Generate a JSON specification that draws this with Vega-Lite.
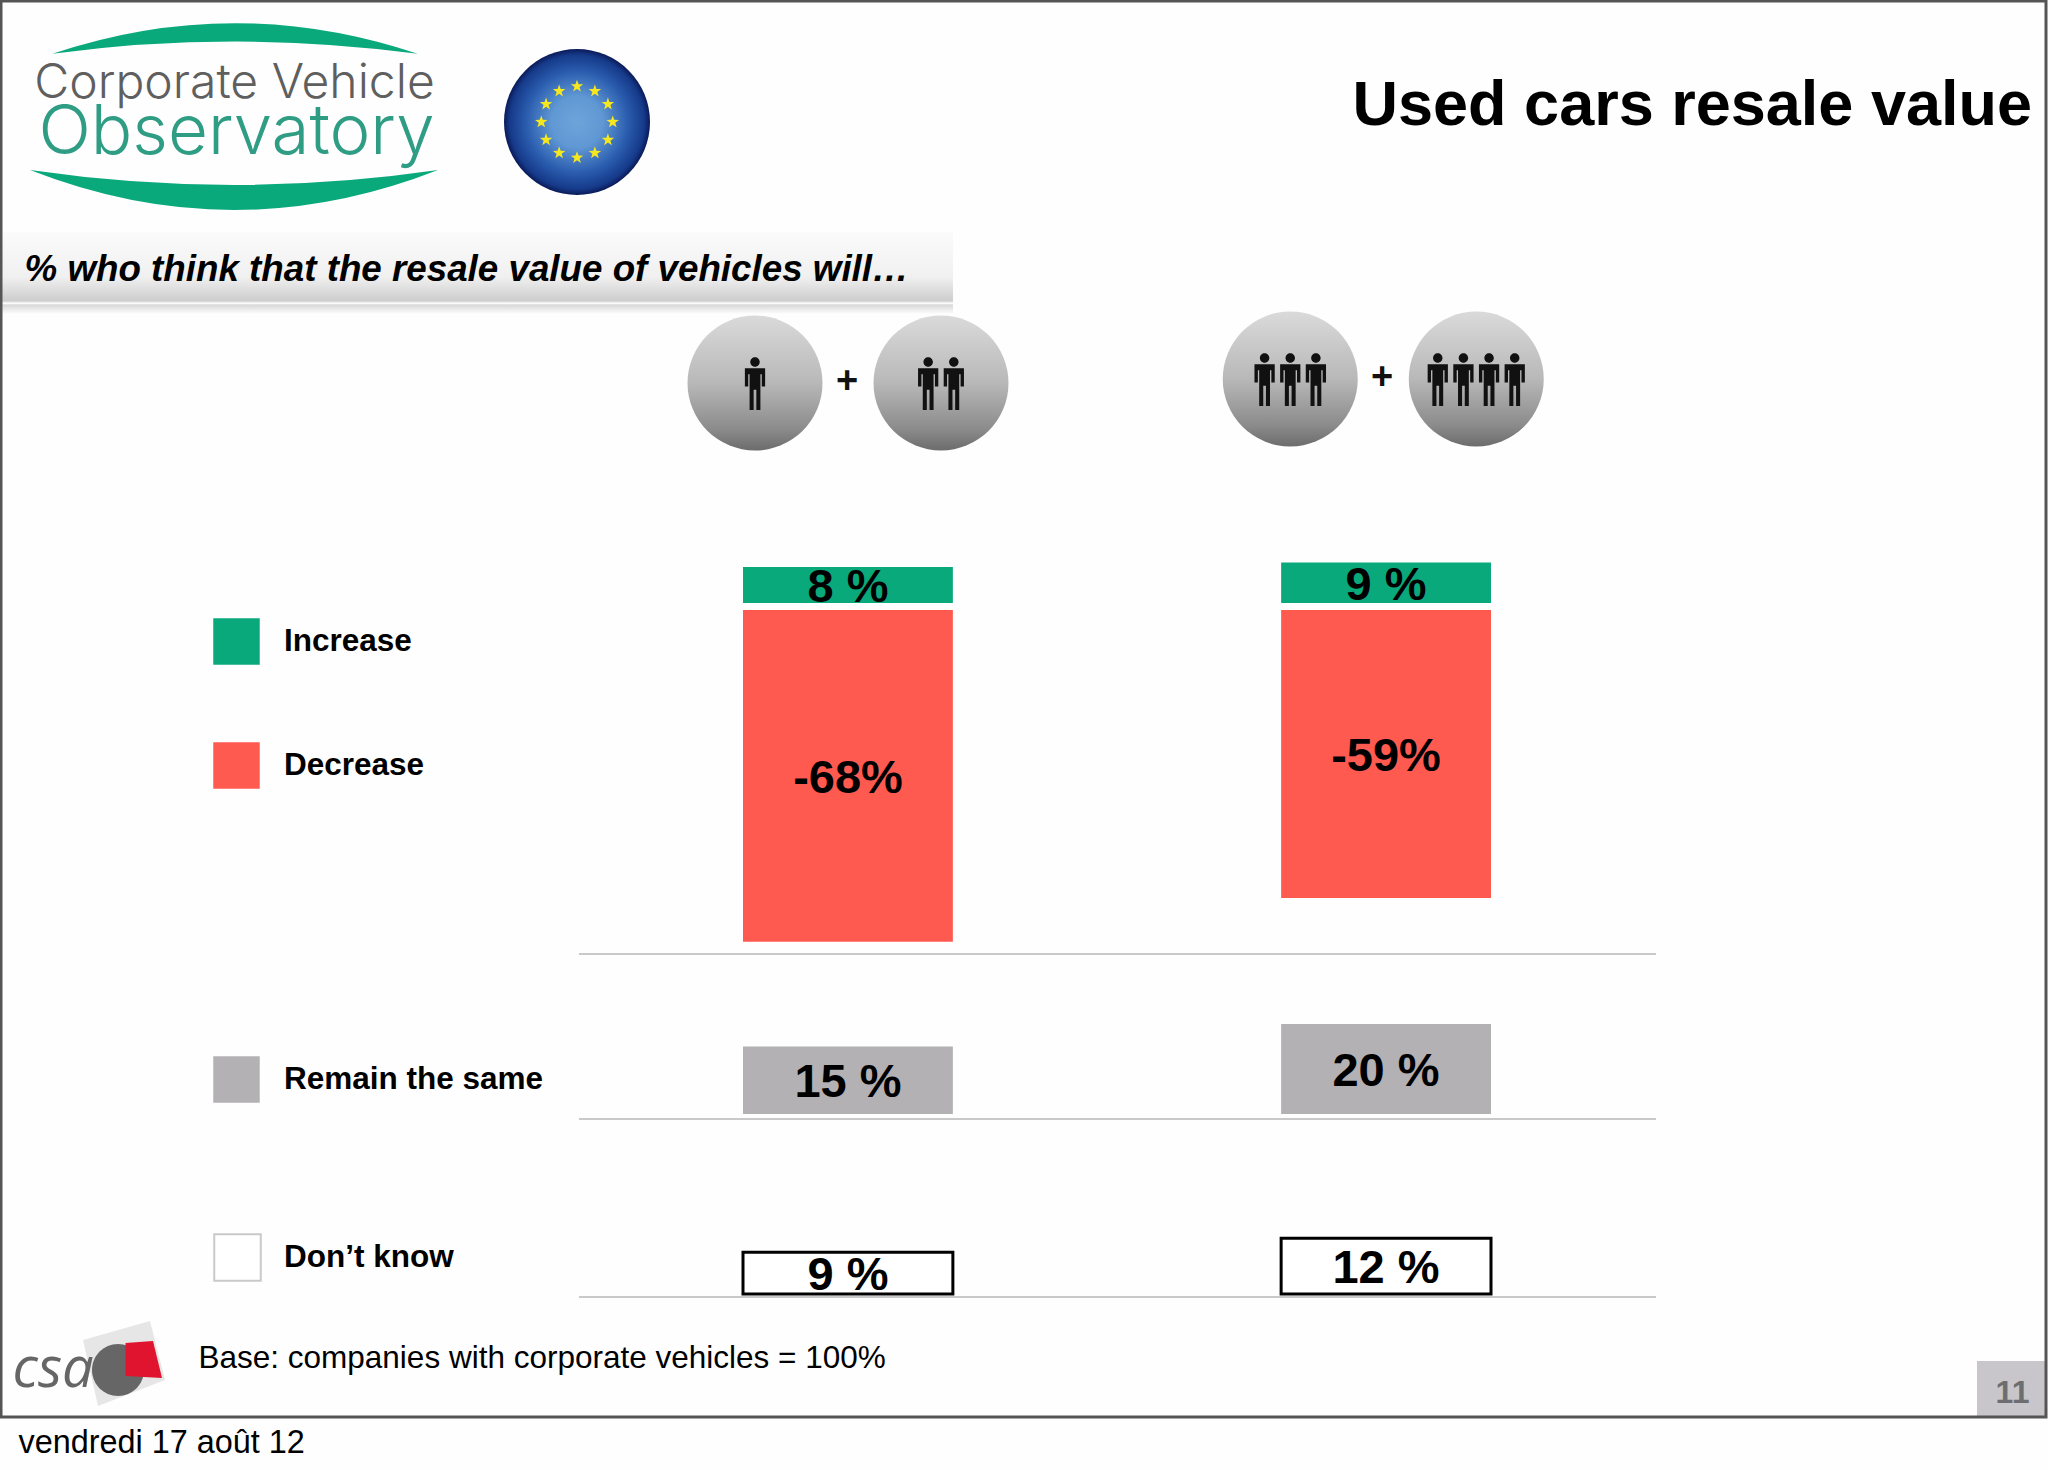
{
  "$schema": "https://vega.github.io/schema/vega-lite/v6.json",
  "width": 2048,
  "height": 1470,
  "padding": 0,
  "autosize": {"type": "none"},
  "background": "#fefefe",
  "title": {
    "text": "Used cars resale value",
    "anchor": "end",
    "frame": "group",
    "offset": 0,
    "dy": 188,
    "dx": -16,
    "baseline": "alphabetic",
    "font": "Liberation Sans",
    "fontSize": 63,
    "fontWeight": "bold",
    "color": "#000000"
  },
  "config": {
    "view": {"stroke": null},
    "axis": {"domain": false, "ticks": false, "labels": false, "grid": false, "titlePadding": 0, "titleColor": "#000000", "titleFont": "Liberation Sans", "titleFontWeight": "normal", "titleLimit": 1500},
    "legend": {"title": null, "padding": 0, "symbolType": "square", "symbolSize": 2162, "symbolStrokeWidth": 0, "labelFont": "Liberation Sans", "labelFontSize": 31.5, "labelFontWeight": "bold", "labelColor": "#000000", "labelOffset": 24, "labelLimit": 500}
  },
  "data": {
    "values": [
      {"group": "1+2", "answer": "Increase", "value": 8, "label": "8 %"},
      {"group": "3+4", "answer": "Increase", "value": 9, "label": "9 %"},
      {"group": "1+2", "answer": "Decrease", "value": -68, "label": "-68%"},
      {"group": "3+4", "answer": "Decrease", "value": -59, "label": "-59%"},
      {"group": "1+2", "answer": "Remain the same", "value": 15, "label": "15 %"},
      {"group": "3+4", "answer": "Remain the same", "value": 20, "label": "20 %"},
      {"group": "1+2", "answer": "Don’t know", "value": 9, "label": "9 %"},
      {"group": "3+4", "answer": "Don’t know", "value": 12, "label": "12 %"}
    ]
  },
  "resolve": {
    "scale": {"x": "independent", "y": "independent", "color": "independent", "shape": "independent", "xOffset": "independent"},
    "axis": {"x": "independent", "y": "independent"},
    "legend": {"color": "independent"}
  },
  "layer": [
    {
      "data": {"values": [{"item": "band"}]},
      "mark": {"type": "rect", "fill": {"gradient": "linear", "x1": 0, "y1": 0, "x2": 0, "y2": 1, "stops": [{"offset": 0, "color": "#fbfbfb"}, {"offset": 0.55, "color": "#f0f0f0"}, {"offset": 0.84, "color": "#cdcdcd"}, {"offset": 0.87, "color": "#ffffff"}, {"offset": 0.89, "color": "#d8d8d8"}, {"offset": 1, "color": "#fefefe"}]}},
      "encoding": {
        "x": {"datum": 0, "type": "quantitative", "scale": {"domain": [0, 1], "range": [0, 953]}, "axis": {"orient": "top", "zindex": 1, "title": "% who think that the resale value of vehicles will…", "titleX": 24, "titleY": 269, "titleAlign": "left", "titleBaseline": "middle", "titleFontSize": 36.75, "titleFontWeight": "bold", "titleFontStyle": "italic"}},
        "x2": {"datum": 1},
        "y": {"datum": 0, "type": "quantitative", "scale": {"domain": [0, 1], "range": [232, 314]}, "axis": null},
        "y2": {"datum": 1}
      }
    },
    {
      "data": {"values": [{"item": "Observatory"}]},
      "mark": {"type": "point", "filled": true, "fill": "#0aa97c", "opacity": 1, "stroke": null, "size": 166464, "shape": "M -.89 -.31 Q 0 -.61 .9 -.31 Q 0 -.43 -.89 -.31 z M -1 .26 Q 0 .652 1 .26 Q 0 .406 -1 .26 z"},
      "encoding": {
        "x": {"field": "item", "type": "nominal", "scale": {"type": "point", "range": [234, 234]}, "axis": {"orient": "top", "zindex": 1, "title": "Corporate Vehicle", "titleX": 234, "titleY": 83, "titleAlign": "center", "titleBaseline": "middle", "titleFont": "Inter", "titleFontWeight": 300, "titleFontSize": 48, "titleColor": "#5f5f5f"}},
        "y": {"field": "item", "type": "nominal", "scale": {"type": "point", "range": [117, 117]}, "axis": {"orient": "left", "zindex": 1, "title": "Observatory", "titleAngle": 0, "titleX": 236, "titleY": 132, "titleAlign": "center", "titleBaseline": "middle", "titleFont": "Inter", "titleFontWeight": 300, "titleFontSize": 69, "titleColor": "#2f9d84"}}
      }
    },
    {
      "data": {"values": [{"item": "EU"}]},
      "mark": {"type": "circle", "size": 21316, "opacity": 1, "fill": {"gradient": "radial", "x1": 0.5, "y1": 0.5, "x2": 0.5, "y2": 0.5, "r1": 0, "r2": 0.5, "stops": [{"offset": 0, "color": "#6ea4da"}, {"offset": 0.35, "color": "#6098d4"}, {"offset": 0.7, "color": "#2a5cae"}, {"offset": 0.92, "color": "#163a8a"}, {"offset": 1, "color": "#0a1a58"}]}},
      "encoding": {
        "x": {"field": "item", "type": "nominal", "scale": {"type": "point", "range": [577, 577]}, "axis": null},
        "y": {"field": "item", "type": "nominal", "scale": {"type": "point", "range": [122, 122]}, "axis": null}
      }
    },
    {
      "data": {"values": [{"item": "EU"}]},
      "mark": {"type": "point", "filled": true, "fill": "#f6e71e", "opacity": 1, "stroke": null, "size": 30674, "shape": "M 0 -.483 l .0176 .0507 .0537 .0011 -.0428 .0325 .0156 .0514 -.0441 -.0307 -.0441 .0307 .0156 -.0514 -.0428 -.0325 .0537 -.0011 z M .204 -.428 l .0176 .0507 .0537 .0011 -.0428 .0325 .0156 .0514 -.0441 -.0307 -.0441 .0307 .0156 -.0514 -.0428 -.0325 .0537 -.0011 z M .353 -.279 l .0176 .0507 .0537 .0011 -.0428 .0325 .0156 .0514 -.0441 -.0307 -.0441 .0307 .0156 -.0514 -.0428 -.0325 .0537 -.0011 z M .408 -.075 l .0176 .0507 .0537 .0011 -.0428 .0325 .0156 .0514 -.0441 -.0307 -.0441 .0307 .0156 -.0514 -.0428 -.0325 .0537 -.0011 z M .353 .129 l .0176 .0507 .0537 .0011 -.0428 .0325 .0156 .0514 -.0441 -.0307 -.0441 .0307 .0156 -.0514 -.0428 -.0325 .0537 -.0011 z M .204 .278 l .0176 .0507 .0537 .0011 -.0428 .0325 .0156 .0514 -.0441 -.0307 -.0441 .0307 .0156 -.0514 -.0428 -.0325 .0537 -.0011 z M 0 .333 l .0176 .0507 .0537 .0011 -.0428 .0325 .0156 .0514 -.0441 -.0307 -.0441 .0307 .0156 -.0514 -.0428 -.0325 .0537 -.0011 z M -.204 .278 l .0176 .0507 .0537 .0011 -.0428 .0325 .0156 .0514 -.0441 -.0307 -.0441 .0307 .0156 -.0514 -.0428 -.0325 .0537 -.0011 z M -.353 .129 l .0176 .0507 .0537 .0011 -.0428 .0325 .0156 .0514 -.0441 -.0307 -.0441 .0307 .0156 -.0514 -.0428 -.0325 .0537 -.0011 z M -.408 -.075 l .0176 .0507 .0537 .0011 -.0428 .0325 .0156 .0514 -.0441 -.0307 -.0441 .0307 .0156 -.0514 -.0428 -.0325 .0537 -.0011 z M -.353 -.279 l .0176 .0507 .0537 .0011 -.0428 .0325 .0156 .0514 -.0441 -.0307 -.0441 .0307 .0156 -.0514 -.0428 -.0325 .0537 -.0011 z M -.204 -.428 l .0176 .0507 .0537 .0011 -.0428 .0325 .0156 .0514 -.0441 -.0307 -.0441 .0307 .0156 -.0514 -.0428 -.0325 .0537 -.0011 z"},
      "encoding": {
        "x": {"field": "item", "type": "nominal", "scale": {"type": "point", "range": [577, 577]}, "axis": null},
        "y": {"field": "item", "type": "nominal", "scale": {"type": "point", "range": [122, 122]}, "axis": null}
      }
    },
    {
      "data": {"values": [
        {"group": "1+2", "side": "left", "staff": "1"},
        {"group": "1+2", "side": "right", "staff": "2"},
        {"group": "3+4", "side": "left", "staff": "3"},
        {"group": "3+4", "side": "right", "staff": "4"}
      ]},
      "encoding": {
        "x": {"field": "group", "type": "nominal", "scale": {"domain": ["1+2", "3+4"], "range": [743, 1487], "paddingInner": 0.61, "paddingOuter": 0}, "axis": null},
        "xOffset": {"field": "side", "type": "nominal", "scale": {"type": "point", "padding": 0, "domain": ["left", "right"], "range": [12, 198]}},
        "y": {"field": "group", "type": "nominal", "scale": {"type": "point", "padding": 0, "domain": ["1+2", "3+4"], "range": [383, 379]}, "axis": null}
      },
      "layer": [
        {
          "mark": {"type": "circle", "size": 18225, "opacity": 1, "fill": {"gradient": "linear", "x1": 0, "y1": 0, "x2": 0, "y2": 1, "stops": [{"offset": 0, "color": "#dadada"}, {"offset": 0.5, "color": "#b8b8b8"}, {"offset": 0.85, "color": "#8a8a8a"}, {"offset": 1, "color": "#6c6c6c"}]}}
        },
        {
          "mark": {"type": "point", "filled": true, "fill": "#111111", "opacity": 1, "stroke": null, "size": 18225},
          "encoding": {
            "shape": {
              "field": "staff",
              "type": "nominal",
              "legend": null,
              "scale": {
                "domain": ["1", "2", "3", "4"],
                "range": [
                  "M -.07 -.31 a .07 .07 0 1 1 .14 0 a .07 .07 0 1 1 -.14 0 z M -.15 -.22 h .3 v .27 h -.05 v -.18 h -.02 v .53 h -.06 v -.3 h -.04 v .3 h -.06 v -.53 h -.02 v .18 h -.05 z",
                  "M -.26 -.31 a .07 .07 0 1 1 .14 0 a .07 .07 0 1 1 -.14 0 z M -.34 -.22 h .3 v .27 h -.05 v -.18 h -.02 v .53 h -.06 v -.3 h -.04 v .3 h -.06 v -.53 h -.02 v .18 h -.05 z M .12 -.31 a .07 .07 0 1 1 .14 0 a .07 .07 0 1 1 -.14 0 z M .04 -.22 h .3 v .27 h -.05 v -.18 h -.02 v .53 h -.06 v -.3 h -.04 v .3 h -.06 v -.53 h -.02 v .18 h -.05 z",
                  "M -.45 -.31 a .07 .07 0 1 1 .14 0 a .07 .07 0 1 1 -.14 0 z M -.53 -.22 h .3 v .27 h -.05 v -.18 h -.02 v .53 h -.06 v -.3 h -.04 v .3 h -.06 v -.53 h -.02 v .18 h -.05 z M -.07 -.31 a .07 .07 0 1 1 .14 0 a .07 .07 0 1 1 -.14 0 z M -.15 -.22 h .3 v .27 h -.05 v -.18 h -.02 v .53 h -.06 v -.3 h -.04 v .3 h -.06 v -.53 h -.02 v .18 h -.05 z M .31 -.31 a .07 .07 0 1 1 .14 0 a .07 .07 0 1 1 -.14 0 z M .23 -.22 h .3 v .27 h -.05 v -.18 h -.02 v .53 h -.06 v -.3 h -.04 v .3 h -.06 v -.53 h -.02 v .18 h -.05 z",
                  "M -.64 -.31 a .07 .07 0 1 1 .14 0 a .07 .07 0 1 1 -.14 0 z M -.72 -.22 h .3 v .27 h -.05 v -.18 h -.02 v .53 h -.06 v -.3 h -.04 v .3 h -.06 v -.53 h -.02 v .18 h -.05 z M -.26 -.31 a .07 .07 0 1 1 .14 0 a .07 .07 0 1 1 -.14 0 z M -.34 -.22 h .3 v .27 h -.05 v -.18 h -.02 v .53 h -.06 v -.3 h -.04 v .3 h -.06 v -.53 h -.02 v .18 h -.05 z M .12 -.31 a .07 .07 0 1 1 .14 0 a .07 .07 0 1 1 -.14 0 z M .04 -.22 h .3 v .27 h -.05 v -.18 h -.02 v .53 h -.06 v -.3 h -.04 v .3 h -.06 v -.53 h -.02 v .18 h -.05 z M .5 -.31 a .07 .07 0 1 1 .14 0 a .07 .07 0 1 1 -.14 0 z M .42 -.22 h .3 v .27 h -.05 v -.18 h -.02 v .53 h -.06 v -.3 h -.04 v .3 h -.06 v -.53 h -.02 v .18 h -.05 z"
                ]
              }
            }
          }
        }
      ]
    },
    {
      "data": {"values": [{"group": "1+2"}, {"group": "3+4"}]},
      "mark": {"type": "text", "text": "+", "font": "Liberation Sans", "fontSize": 38, "fontWeight": "bold", "color": "#111111", "baseline": "middle"},
      "encoding": {
        "x": {"field": "group", "type": "nominal", "scale": {"type": "point", "padding": 0, "domain": ["1+2", "3+4"], "range": [847, 1382]}, "axis": null},
        "y": {"field": "group", "type": "nominal", "scale": {"type": "point", "padding": 0, "domain": ["1+2", "3+4"], "range": [382, 378]}, "axis": null}
      }
    },
    {
      "data": {"values": [{"line": "below Decrease"}]},
      "mark": {"type": "rule", "color": "#c9c9c9", "strokeWidth": 2},
      "encoding": {
        "x": {"datum": 0, "type": "quantitative", "scale": {"domain": [0, 1], "range": [579, 1656]}, "axis": null},
        "x2": {"datum": 1},
        "y": {"field": "line", "type": "nominal", "scale": {"type": "point", "range": [954, 954]}, "axis": null}
      }
    },
    {
      "data": {"values": [{"line": "below Remain the same"}]},
      "mark": {"type": "rule", "color": "#c9c9c9", "strokeWidth": 2},
      "encoding": {
        "x": {"datum": 0, "type": "quantitative", "scale": {"domain": [0, 1], "range": [579, 1656]}, "axis": null},
        "x2": {"datum": 1},
        "y": {"field": "line", "type": "nominal", "scale": {"type": "point", "range": [1119, 1119]}, "axis": null}
      }
    },
    {
      "data": {"values": [{"line": "below Don’t know"}]},
      "mark": {"type": "rule", "color": "#c9c9c9", "strokeWidth": 2},
      "encoding": {
        "x": {"datum": 0, "type": "quantitative", "scale": {"domain": [0, 1], "range": [579, 1656]}, "axis": null},
        "x2": {"datum": 1},
        "y": {"field": "line", "type": "nominal", "scale": {"type": "point", "range": [1297, 1297]}, "axis": null}
      }
    },
    {
      "transform": [{"filter": "datum.answer === 'Increase'"}],
      "mark": {"type": "bar"},
      "encoding": {
        "x": {"field": "group", "type": "nominal", "scale": {"domain": ["1+2", "3+4"], "range": [743, 1491], "paddingInner": 0.61, "paddingOuter": 0}, "axis": null},
        "y": {"field": "value", "type": "quantitative", "scale": {"domain": [0, 100], "range": [603, 153]}, "axis": null},
        "color": {"field": "answer", "type": "nominal", "scale": {"domain": ["Increase"], "range": ["#0aa97c"]}, "legend": {"orient": "none", "legendX": 213, "legendY": 618}}
      }
    },
    {
      "transform": [{"filter": "datum.answer === 'Decrease'"}],
      "mark": {"type": "bar"},
      "encoding": {
        "x": {"field": "group", "type": "nominal", "scale": {"domain": ["1+2", "3+4"], "range": [743, 1491], "paddingInner": 0.61, "paddingOuter": 0}, "axis": null},
        "y": {"field": "value", "type": "quantitative", "scale": {"domain": [-100, 0], "range": [1098, 610]}, "axis": null},
        "color": {"field": "answer", "type": "nominal", "scale": {"domain": ["Decrease"], "range": ["#ff5a50"]}, "legend": {"orient": "none", "legendX": 213, "legendY": 742, "symbolFillColor": "#f6423f"}}
      }
    },
    {
      "transform": [{"filter": "datum.answer === 'Remain the same'"}],
      "mark": {"type": "bar"},
      "encoding": {
        "x": {"field": "group", "type": "nominal", "scale": {"domain": ["1+2", "3+4"], "range": [743, 1491], "paddingInner": 0.61, "paddingOuter": 0}, "axis": null},
        "y": {"field": "value", "type": "quantitative", "scale": {"domain": [0, 100], "range": [1114, 664]}, "axis": null},
        "color": {"field": "answer", "type": "nominal", "scale": {"domain": ["Remain the same"], "range": ["#b3b1b4"]}, "legend": {"orient": "none", "legendX": 213, "legendY": 1056}}
      }
    },
    {
      "transform": [{"filter": "datum.answer === 'Don’t know'"}],
      "mark": {"type": "bar", "stroke": "#000000", "strokeWidth": 3},
      "encoding": {
        "x": {"field": "group", "type": "nominal", "scale": {"domain": ["1+2", "3+4"], "range": [743, 1491], "paddingInner": 0.61, "paddingOuter": 0}, "axis": null},
        "y": {"field": "value", "type": "quantitative", "scale": {"domain": [0, 100], "range": [1294, 829]}, "axis": null},
        "color": {"field": "answer", "type": "nominal", "scale": {"domain": ["Don’t know"], "range": ["#ffffff"]}, "legend": {"orient": "none", "legendX": 213, "legendY": 1233, "symbolStrokeColor": "#c9c9c9", "symbolStrokeWidth": 2, "labelOffset": 22}}
      }
    },
    {
      "transform": [{"filter": "datum.answer === 'Increase'"}],
      "mark": {"type": "text", "font": "Liberation Sans", "fontSize": 47, "fontWeight": "bold", "baseline": "middle", "color": "#000000", "dy": 3},
      "encoding": {
        "x": {"field": "group", "type": "nominal", "scale": {"type": "point", "padding": 0, "domain": ["1+2", "3+4"], "range": [848, 1386]}, "axis": null},
        "y": {"field": "value", "type": "quantitative", "scale": {"domain": [0, 100], "range": [603, 378]}, "axis": null},
        "text": {"field": "label"}
      }
    },
    {
      "transform": [{"filter": "datum.answer === 'Decrease'"}],
      "mark": {"type": "text", "font": "Liberation Sans", "fontSize": 47, "fontWeight": "bold", "baseline": "middle", "color": "#000000", "dy": 3},
      "encoding": {
        "x": {"field": "group", "type": "nominal", "scale": {"type": "point", "padding": 0, "domain": ["1+2", "3+4"], "range": [848, 1386]}, "axis": null},
        "y": {"field": "value", "type": "quantitative", "scale": {"domain": [-100, 0], "range": [854, 610]}, "axis": null},
        "text": {"field": "label"}
      }
    },
    {
      "transform": [{"filter": "datum.answer === 'Remain the same'"}],
      "mark": {"type": "text", "font": "Liberation Sans", "fontSize": 47, "fontWeight": "bold", "baseline": "middle", "color": "#000000", "dy": 3},
      "encoding": {
        "x": {"field": "group", "type": "nominal", "scale": {"type": "point", "padding": 0, "domain": ["1+2", "3+4"], "range": [848, 1386]}, "axis": null},
        "y": {"field": "value", "type": "quantitative", "scale": {"domain": [0, 100], "range": [1114, 889]}, "axis": null},
        "text": {"field": "label"}
      }
    },
    {
      "transform": [{"filter": "datum.answer === 'Don’t know'"}],
      "mark": {"type": "text", "font": "Liberation Sans", "fontSize": 47, "fontWeight": "bold", "baseline": "middle", "color": "#000000", "dy": 3},
      "encoding": {
        "x": {"field": "group", "type": "nominal", "scale": {"type": "point", "padding": 0, "domain": ["1+2", "3+4"], "range": [848, 1386]}, "axis": null},
        "y": {"field": "value", "type": "quantitative", "scale": {"domain": [0, 100], "range": [1294, 1061]}, "axis": null},
        "text": {"field": "label"}
      }
    },
    {
      "data": {"values": [{"part": "sheet"}, {"part": "leaf"}, {"part": "flag"}]},
      "mark": {"type": "point", "filled": true, "opacity": 1, "stroke": null, "size": 10000},
      "encoding": {
        "x": {"datum": "csa", "type": "nominal", "scale": {"type": "point", "range": [120, 120]}, "axis": {"orient": "top", "zindex": 1, "title": "csa", "titleX": 12, "titleY": 1369, "titleAlign": "left", "titleBaseline": "middle", "titleFont": "Open Sans", "titleFontStyle": "italic", "titleFontSize": 56, "titleColor": "#666666"}},
        "y": {"datum": "csa", "type": "nominal", "scale": {"type": "point", "range": [1362, 1362]}, "axis": null},
        "shape": {"field": "part", "type": "nominal", "legend": null, "scale": {"domain": ["sheet", "leaf", "flag"], "range": ["M -.74 -.44 L .6 -.82 L .9 .36 L -.44 .88 z", "M -.56 .16 a .52 .52 0 1 1 1.04 0 a .52 .52 0 1 1 -1.04 0 z", "M .11 -.38 L .66 -.42 L .84 .32 L .11 .28 z"]}},
        "color": {"field": "part", "type": "nominal", "legend": null, "scale": {"domain": ["sheet", "leaf", "flag"], "range": ["#e6e6e6", "#666666", "#e0142e"]}}
      }
    },
    {
      "data": {"values": [{"item": "page"}]},
      "mark": {"type": "rect", "fill": "#c8c6ca"},
      "encoding": {
        "x": {"datum": 0, "type": "quantitative", "scale": {"domain": [0, 1], "range": [1977, 2046]}, "axis": {"orient": "top", "zindex": 1, "title": "11", "titleX": 2012, "titleY": 1392, "titleAlign": "center", "titleBaseline": "middle", "titleFontSize": 32, "titleFontWeight": "bold", "titleColor": "#6e6e70"}},
        "x2": {"datum": 1},
        "y": {"datum": 0, "type": "quantitative", "scale": {"domain": [0, 1], "range": [1361, 1417]}, "axis": null},
        "y2": {"datum": 1}
      }
    },
    {
      "data": {"values": [{"item": "frame"}]},
      "mark": {"type": "rect", "fill": null, "stroke": "#555555", "strokeWidth": 3},
      "encoding": {
        "x": {"datum": 0, "type": "quantitative", "scale": {"domain": [0, 1], "range": [1, 2046]}, "axis": {"orient": "top", "zindex": 1, "title": "vendredi 17 août 12", "titleX": 18, "titleY": 1442, "titleAlign": "left", "titleBaseline": "middle", "titleFontSize": 32.4}},
        "x2": {"datum": 1},
        "y": {"datum": 0, "type": "quantitative", "scale": {"domain": [0, 1], "range": [1, 1417]}, "axis": {"orient": "left", "zindex": 1, "title": "Base: companies with corporate vehicles = 100%", "titleAngle": 0, "titleX": 198, "titleY": 1358, "titleAlign": "left", "titleBaseline": "middle", "titleFontSize": 31.5}},
        "y2": {"datum": 1}
      }
    }
  ]
}
